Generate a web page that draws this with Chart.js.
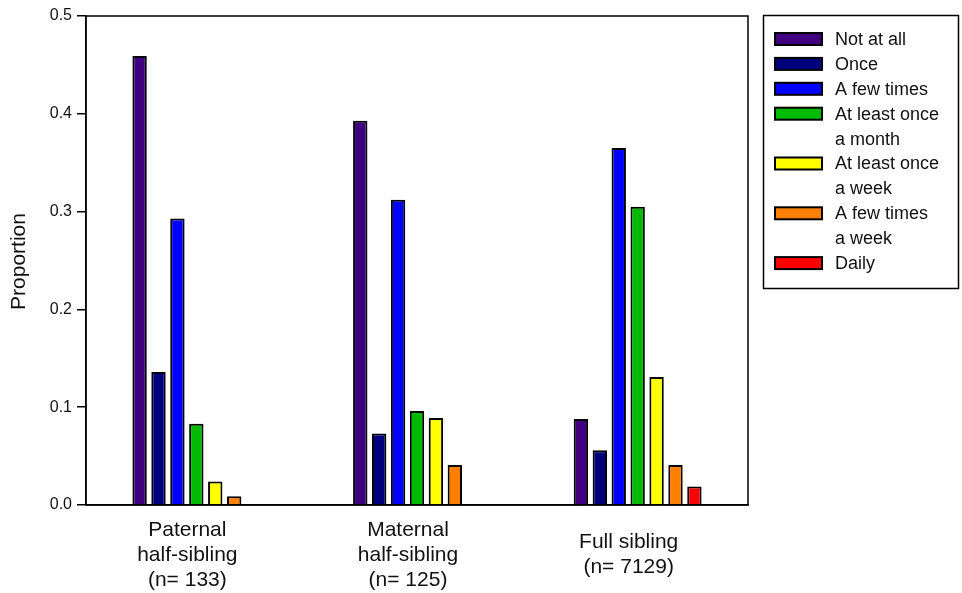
<!DOCTYPE html>
<html>
<head>
<meta charset="utf-8">
<title>Proportion by sibling type</title>
<script src="https://cdn.jsdelivr.net/npm/chart.js@4/dist/chart.umd.min.js"></script>
<style>
  body { margin: 0; background: #fff; }
  canvas { display: block; }
</style>
</head>
<body>
<canvas id="sibChart" width="962" height="593"></canvas>
<script>
// categories (x axis), multi-line labels
const categories = [
    ['Paternal', 'half-sibling', '(n= 133)'],
    ['Maternal', 'half-sibling', '(n= 125)'],
    ['Full sibling', '(n= 7129)']
];

// legend lines for each frequency
const seriesLabels = [
    ['Not at all'],
    ['Once'],
    ['A few times'],
    ['At least once', 'a month'],
    ['At least once', 'a week'],
    ['A few times', 'a week'],
    ['Daily']
];
const seriesColors = ['#3f007f', '#00007f', '#0000ff', '#00bb00', '#ffff00', '#ff8000', '#ff0000'];

// proportions, one array per frequency (paternal, maternal, full)
const notAtAll      = [0.459, 0.393, 0.088];
const once          = [0.136, 0.073, 0.056];
const fewTimes      = [0.293, 0.312, 0.365];
const monthly       = [0.083, 0.096, 0.305];
const weekly        = [0.024, 0.089, 0.131];
const fewTimesWeek  = [0.009, 0.041, 0.041];
const daily         = [null, null, 0.019];

const yTicks = [0, 0.1, 0.2, 0.3, 0.4, 0.5];

const seriesValues = [notAtAll, once, fewTimes, monthly, weekly, fewTimesWeek, daily];

const FONT = '"Liberation Sans", Arial, Helvetica, sans-serif';

// legend box + y title + top/right frame
const framePlugin = {
    id: 'frame',
    afterDraw(chart) {
        const ctx = chart.ctx;
        const area = chart.chartArea;
        ctx.save();
        ctx.strokeStyle = '#000';
        ctx.lineWidth = 1.5;
        ctx.strokeRect(area.left, area.top, area.right - area.left, area.bottom - area.top);

        // y axis title
        ctx.fillStyle = '#111';
        ctx.font = '21px ' + FONT;
        ctx.textAlign = 'center';
        ctx.textBaseline = 'middle';
        ctx.translate(19, (area.top + area.bottom) / 2 + 1);
        ctx.rotate(-Math.PI / 2);
        ctx.fillText('Proportion', 0, 0);
        ctx.restore();

        // legend
        ctx.save();
        ctx.strokeStyle = '#000';
        ctx.lineWidth = 1.5;
        ctx.strokeRect(763.5, 15.5, 195, 273);
        ctx.font = '18px ' + FONT;
        ctx.textAlign = 'left';
        ctx.textBaseline = 'middle';
        let row = 0;
        chart.data.datasets.forEach((ds, i) => {
            const y = 40 + row * 24.9;
            ctx.lineWidth = 2;
            ctx.fillStyle = ds.backgroundColor;
            ctx.fillRect(775, y - 7, 47, 12);
            ctx.strokeRect(775, y - 7, 47, 12);
            ctx.fillStyle = '#111';
            seriesLabels[i].forEach((line, j) => {
                ctx.fillText(line, 835, 40 + (row + j) * 24.9);
            });
            row += seriesLabels[i].length;
        });
        ctx.restore();
    }
};

document.addEventListener('DOMContentLoaded', function() {
    const ctx = document.getElementById('sibChart').getContext('2d');

    new Chart(ctx, {
        type: 'bar',
        data: {
            labels: categories,
            datasets: seriesValues.map((vals, i) => ({
                label: seriesLabels[i].join(' '),
                data: vals,
                backgroundColor: seriesColors[i],
                borderColor: '#000',
                borderWidth: 2,
                categoryPercentage: 0.6,
                barPercentage: 0.76
            }))
        },
        options: {
            responsive: false,
            animation: false,
            layout: { padding: { left: 0, top: 16, right: 214, bottom: 0 } },
            plugins: {
                legend: { display: false },
                tooltip: { enabled: false }
            },
            scales: {
                x: {
                    grid: { display: false, drawTicks: false },
                    border: { display: true, color: '#000', width: 1.5 },
                    ticks: {
                        color: '#111',
                        font: { family: FONT, size: 21, lineHeight: 25 / 21 },
                        crossAlign: 'center',
                        padding: 25,
                        labelOffset: -9,
                        maxRotation: 0,
                        autoSkip: false
                    },
                    afterFit(scale) { scale.height = 88; }
                },
                y: {
                    min: 0,
                    max: 0.5,
                    grid: { drawOnChartArea: false, drawTicks: true, tickLength: 9, color: '#000', lineWidth: 1.5 },
                    border: { display: true, color: '#000', width: 1.5 },
                    afterBuildTicks(scale) { scale.ticks = yTicks.map(v => ({ value: v })); },
                    ticks: {
                        color: '#111',
                        font: { family: FONT, size: 16 },
                        padding: 5,
                        callback: v => Number(v).toFixed(1)
                    },
                    afterFit(scale) { scale.width = 86; }
                }
            }
        },
        plugins: [framePlugin]
    });
});
</script>
</body>
</html>
